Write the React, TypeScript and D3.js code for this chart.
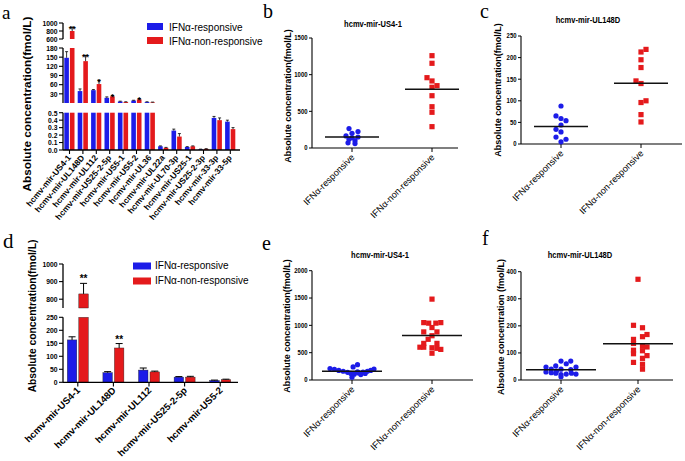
import React from 'react';
import * as d3 from 'd3';

const BLUE = '#1c1ce8';
const RED = '#e41a1c';
const FONT = "Arial, 'Liberation Sans', sans-serif";
const SERIF = "'Times New Roman', 'Liberation Serif', serif";

const GROUPS = ['IFNα-responsive', 'IFNα-non-responsive'];

// ---------- Panel a ----------
const aCategories = [
  'hcmv-mir-US4-1', 'hcmv-mir-UL148D', 'hcmv-mir-UL112', 'hcmv-mir-US25-2-5p',
  'hcmv-mir-US5-1', 'hcmv-mir-US5-2', 'hcmv-mir-UL36', 'hcmv-mir-UL22a',
  'hcmv-mir-UL70-3p', 'hcmv-mir-US25-1', 'hcmv-mir-US25-2-3p', 'hcmv-mir-33-3p', 'hcmv-mir-33-5p',
];
const aBlue = [148, 39, 42, 17, 5, 8, 3, 0.05, 0.26, 0.04, 0.01, 0.43, 0.38];
const aBlueErr = [168, 46, 44, 20, 6, 9, 4, 0.055, 0.28, 0.045, 0.012, 0.45, 0.40];
const aRed = [800, 137, 62, 22, 3, 12, 2, 0.03, 0.18, 0.05, 0.015, 0.40, 0.28];
const aRedErr = [900, 156, 75, 25, 4, 14, 3, 0.035, 0.22, 0.055, 0.018, 0.43, 0.30];
const aStars = ['**', '**', '*', '*', '', '*', '', '', '', '', '', '', ''];
const aTopTicks = [600, 800, 1000];
const aMidTicks = [30, 60, 90, 120, 150, 180];
const aBotTicks = [0, 0.1, 0.2, 0.3, 0.4, 0.5];

// ---------- Panel d ----------
const dCategories = ['hcmv-mir-US4-1', 'hcmv-mir-UL148D', 'hcmv-mir-UL112', 'hcmv-mir-US25-2-5p', 'hcmv-mir-US5-2'];
const dBlue = [163, 37, 47, 20, 7];
const dBlueErr = [175, 41, 55, 22, 8.5];
const dRed = [830, 132, 40, 20, 10];
const dRedErr = [890, 149, 43, 23, 12];
const dStars = ['**', '**', '', '', ''];
const dTopTicks = [800, 900, 1000];
const dBotTicks = [0, 50, 100, 150, 200, 250];

// ---------- Panel b ----------
const bBlue = [265, 225, 200, 165, 150, 140, 120, 100, 70, 60];
const bBlueJit = [-0.3, 0.6, 0.0, -0.6, 0.6, 0, -0.3, 0.3, -0.4, 0.3];
const bRed = [1259, 1155, 959, 914, 850, 828, 713, 563, 487, 291];
const bRedJit = [0, 0, -0.5, 0, 0.5, 0, 0, 0, 0, 0];
const bTicks = [0, 500, 1000, 1500];

// ---------- Panel c ----------
const cBlue = [88, 65, 59, 54, 44, 34, 28, 16, 11, 5];
const cBlueJit = [0, -0.5, 0, 0.5, 0, -0.5, 0, -0.5, 0.5, 0];
const cRed = [219, 213, 195, 177, 146, 140, 100, 96, 68, 51];
const cRedJit = [0.5, 0, 0, 0, -0.5, 0, 0.5, 0, 0, 0];
const cTicks = [0, 50, 100, 150, 200, 250];

// ---------- Panel e ----------
const eBlue = [210, 195, 175, 160, 140, 120, 240, 280, 105, 50, 150, 130, 100, 145, 120, 160, 175, 200];
const eBlueJit = [-1, -0.8, -0.6, -0.4, -0.2, -0.05, 0.05, 0.25, 0.1, 0.0, 0.25, 0.3, 0.4, 0.5, 0.6, 0.7, 0.85, 1.0];
const eRed = [1480, 1050, 1040, 1040, 1050, 960, 880, 880, 810, 745, 670, 670, 600, 600, 590, 580, 560, 490];
const eRedJit = [0, -0.75, -0.3, 0.35, 0.8, 0, -0.75, 0.45, 0, -0.35, 0.45, -0.75, -1.1, -0.75, 0, 0.45, 0.8, 0];
const eTicks = [0, 500, 1000, 1500, 2000];

// ---------- Panel f ----------
const fBlue = [70, 70, 60, 52, 48, 48, 40, 40, 38, 30, 27, 25, 22, 22, 20, 25, 12, 33];
const fBlueJit = [0, 0.65, 0.35, -0.35, -1, 1, -0.65, 0, 0.65, -1, -0.65, -0.35, 0.35, 1, 0, 0.7, 0, -0.3];
const fRed = [372, 202, 193, 168, 150, 160, 135, 125, 122, 110, 108, 97, 90, 80, 65, 58, 40];
const fRedJit = [0, -0.5, 0.5, 1, -0.5, 0.5, -0.5, 0.5, 1, -0.5, 0.5, -0.5, 1, 0.5, -0.5, 0.5, 0.5];
const fTicks = [0, 100, 200, 300, 400];

type TProps = { x: number; y: number; size: number; sx?: number; anchor?: string; weight?: string | number; rotate?: number; fill?: string; family?: string; children: React.ReactNode };
function T({ x, y, size, sx = 1, anchor = 'start', weight = 'normal', rotate = 0, fill = '#000', family = FONT, children }: TProps) {
  return (
    <text transform={`translate(${x},${y}) rotate(${rotate}) scale(${sx},1)`} fontSize={size} fontFamily={family}
      fontWeight={weight} textAnchor={anchor} fill={fill}>{children}</text>
  );
}

function YSegment({ scale, ticks, x, fmt, size, sx, tick = 4 }: any) {
  const [r0, r1] = scale.range();
  return (
    <g>
      <line x1={x} x2={x} y1={r0} y2={r1} stroke="#000" strokeWidth={1.3} />
      {ticks.map((t: number) => (
        <g key={t}>
          <line x1={x - tick} x2={x} y1={scale(t)} y2={scale(t)} stroke="#000" strokeWidth={1.1} />
          <T x={x - tick - 1.5} y={scale(t) + size * 0.35} size={size} sx={sx} anchor="end" weight="bold">{fmt(t)}</T>
        </g>
      ))}
    </g>
  );
}

function PanelA() {
  const x = d3.scaleBand<string>().domain(aCategories).range([62.8, 237]);
  const yTop = d3.scaleLinear().domain([600, 1000]).range([39, 23]);
  const yMid = d3.scaleLinear().domain([0, 180]).range([103, 48]);
  const yBot = d3.scaleLinear().domain([0, 0.5]).range([150, 112.7]);
  const axisX = 63;
  const bw = 4.6;
  const segPx = (v: number) => (v > 600 ? yTop(v) : v > 0.5 ? yMid(Math.min(v, 180)) : yBot(v));
  const bars = (vals: number[], errs: number[], color: string, dx: number) =>
    vals.map((v, i) => {
      const cx = (x(aCategories[i]) as number) + x.bandwidth() / 2 + dx;
      const parts: JSX.Element[] = [];
      parts.push(<rect key="b" x={cx} y={yBot(Math.min(v, 0.5))} width={bw} height={yBot(0) - yBot(Math.min(v, 0.5))} fill={color} />);
      if (v > 0.5) parts.push(<rect key="m" x={cx} y={yMid(Math.min(v, 180))} width={bw} height={yMid(0) - yMid(Math.min(v, 180))} fill={color} />);
      if (v > 600) parts.push(<rect key="t" x={cx} y={yTop(v)} width={bw} height={yTop(600) - yTop(v)} fill={color} />);
      const showErr = v < 0.5 || v <= 180 || v > 600;
      if (showErr) {
        const y1 = segPx(v);
        const y2 = segPx(errs[i]);
        parts.push(<line key="e" x1={cx + bw / 2} x2={cx + bw / 2} y1={y1} y2={y2} stroke="#000" strokeWidth={0.8} />);
        parts.push(<line key="c" x1={cx + 0.8} x2={cx + bw - 0.8} y1={y2} y2={y2} stroke="#000" strokeWidth={0.8} />);
      }
      return <g key={i}>{parts}</g>;
    });
  return (
    <g>
      <T x={2} y={19} size={19} family={SERIF}>a</T>
      {bars(aBlue, aBlueErr, BLUE, -5.2)}
      {bars(aRed, aRedErr, RED, 0.4)}
      {aStars.map((s, i) => s && (
        <T key={i} x={(x(aCategories[i]) as number) + x.bandwidth() / 2 + 2.7} y={segPx(aRedErr[i]) + 4.5} size={9} anchor="middle" weight="bold">{s}</T>
      ))}
      <YSegment scale={yTop} ticks={aTopTicks} x={axisX} fmt={(t: number) => String(t)} size={8} sx={0.85} />
      <YSegment scale={yMid} ticks={aMidTicks} x={axisX} fmt={(t: number) => String(t)} size={8} sx={0.85} />
      <YSegment scale={yBot} ticks={aBotTicks} x={axisX} fmt={(t: number) => t.toFixed(1)} size={8} sx={0.85} />
      <line x1={axisX} x2={240} y1={150} y2={150} stroke="#000" strokeWidth={1.3} />
      {aCategories.map((c) => {
        const cx = (x(c) as number) + x.bandwidth() / 2;
        return (
          <g key={c}>
            <line x1={cx} x2={cx} y1={150} y2={154} stroke="#000" strokeWidth={1.1} />
            <T x={cx + 2} y={158} size={8.4} rotate={-50} anchor="end" weight="bold">{c}</T>
          </g>
        );
      })}
      <T x={31} y={104} size={11.8} rotate={-90} anchor="middle" weight="bold">Absolute concentration(fmol/L)</T>
      <rect x={147} y={23} width={16} height={7} fill={BLUE} />
      <rect x={147} y={37} width={16} height={7} fill={RED} />
      <T x={169} y={30.5} size={10}>{GROUPS[0]}</T>
      <T x={169} y={44.5} size={10}>{GROUPS[1]}</T>
    </g>
  );
}

function PanelD() {
  const x = d3.scaleBand<string>().domain(dCategories).range([60, 238]);
  const yTop = d3.scaleLinear().domain([750, 1000]).range([308, 264]);
  const yBot = d3.scaleLinear().domain([0, 250]).range([382.3, 317.3]);
  const axisX = 63;
  const bw = 9.5;
  const segPx = (v: number) => (v > 750 ? yTop(v) : yBot(Math.min(v, 250)));
  const bars = (vals: number[], errs: number[], color: string, dx: number) =>
    vals.map((v, i) => {
      const cx = (x(dCategories[i]) as number) + x.bandwidth() / 2 + dx;
      const ex = cx + bw / 2;
      const y2 = segPx(errs[i]);
      return (
        <g key={i}>
          <rect x={cx} y={yBot(Math.min(v, 250))} width={bw} height={yBot(0) - yBot(Math.min(v, 250))} fill={color} stroke="#222" strokeWidth={0.4} />
          {v > 750 && <rect x={cx} y={yTop(v)} width={bw} height={yTop(750) - yTop(v)} fill={color} stroke="#222" strokeWidth={0.4} />}
          <line x1={ex} x2={ex} y1={segPx(v)} y2={y2} stroke="#000" strokeWidth={1} />
          <line x1={ex - 3.5} x2={ex + 3.5} y1={y2} y2={y2} stroke="#000" strokeWidth={1} />
        </g>
      );
    });
  return (
    <g>
      <T x={3} y={248} size={21} family={SERIF}>d</T>
      {bars(dBlue, dBlueErr, BLUE, -10.5)}
      {bars(dRed, dRedErr, RED, 1)}
      {dStars.map((s, i) => s && (
        <T key={i} x={(x(dCategories[i]) as number) + x.bandwidth() / 2 + 5.75} y={segPx(dRedErr[i]) - 1} size={10} anchor="middle" weight="bold">{s}</T>
      ))}
      <YSegment scale={yTop} ticks={dTopTicks} x={axisX} fmt={(t: number) => String(t)} size={8} sx={0.85} />
      <YSegment scale={yBot} ticks={dBotTicks} x={axisX} fmt={(t: number) => String(t)} size={8} sx={0.85} />
      <line x1={axisX} x2={238} y1={382.3} y2={382.3} stroke="#000" strokeWidth={1.3} />
      {dCategories.map((c) => {
        const cx = (x(c) as number) + x.bandwidth() / 2;
        return (
          <g key={c}>
            <line x1={cx} x2={cx} y1={382.3} y2={386.5} stroke="#000" strokeWidth={1.1} />
            <T x={cx + 3} y={391} size={9.6} rotate={-45} anchor="end" weight="bold">{c}</T>
          </g>
        );
      })}
      <T x={36} y={316} size={10.3} rotate={-90} anchor="middle" weight="bold">Absolute concentration(fmol/L)</T>
      <rect x={133} y={262.5} width={18} height={7} fill={BLUE} />
      <rect x={133} y={277.5} width={18} height={7} fill={RED} />
      <T x={155} y={269} size={10}>{GROUPS[0]}</T>
      <T x={155} y={284} size={10}>{GROUPS[1]}</T>
    </g>
  );
}

type SP = {
  letter: string; lx: number; ly: number; title: string; tx: number; ty: number;
  axisX: number; xEnd: number; y0: number; y1: number; yMax: number; ticks: number[];
  c1: number; c2: number; blue: number[]; blueJit: number[]; red: number[]; redJit: number[];
  spreadB: number; spreadR: number; half: number; ylabel: string; lblX: number; lblY: number;
};

function ScatterPanel(p: SP) {
  const x = d3.scalePoint<string>().domain(GROUPS).range([p.c1, p.c2]);
  const y = d3.scaleLinear().domain([0, p.yMax]).range([p.y0, p.y1]);
  const xb = x(GROUPS[0]) as number;
  const xr = x(GROUPS[1]) as number;
  const mb = d3.mean(p.blue) as number;
  const mr = d3.mean(p.red) as number;
  return (
    <g>
      <T x={p.lx} y={p.ly} size={20} family={SERIF}>{p.letter}</T>
      <T x={p.tx} y={p.ty} size={9.2} sx={0.82} anchor="middle" weight="bold">{p.title}</T>
      <line x1={p.axisX} x2={p.axisX} y1={p.y0} y2={p.y1} stroke="#000" strokeWidth={1.1} />
      <line x1={p.axisX} x2={p.xEnd} y1={p.y0} y2={p.y0} stroke="#000" strokeWidth={1.1} />
      {p.ticks.map((t) => (
        <g key={t}>
          <line x1={p.axisX - 3} x2={p.axisX} y1={y(t)} y2={y(t)} stroke="#000" strokeWidth={1} />
          <T x={p.axisX - 4.5} y={y(t) + 2.4} size={7} sx={0.85} anchor="end" weight="bold">{t}</T>
        </g>
      ))}
      {GROUPS.map((g) => (
        <g key={g}>
          <line x1={x(g)} x2={x(g)} y1={p.y0} y2={p.y0 + 4} stroke="#000" strokeWidth={1} />
          <T x={(x(g) as number) + 3} y={p.y0 + 10} size={9.2} rotate={-45} anchor="end">{g}</T>
        </g>
      ))}
      <T x={p.lblX} y={p.lblY} size={9} rotate={-90} anchor="middle" weight="bold">{p.ylabel}</T>
      {p.blue.map((v, i) => (
        <circle key={'b' + i} cx={xb + p.blueJit[i] * p.spreadB} cy={y(v)} r={2.6} fill={BLUE} />
      ))}
      {p.red.map((v, i) => (
        <rect key={'r' + i} x={xr + p.redJit[i] * p.spreadR - 2.6} y={y(v) - 2.6} width={5.2} height={5.2} fill={RED} />
      ))}
      <line x1={xb - p.half} x2={xb + p.half} y1={y(mb)} y2={y(mb)} stroke="#111" strokeWidth={1.5} />
      <line x1={xr - p.half} x2={xr + p.half} y1={y(mr)} y2={y(mr)} stroke="#111" strokeWidth={1.5} />
    </g>
  );
}

export default function App() {
  const lab = 'Absolute concentration(fmol/L)';
  return (
    <div style={{ position: 'absolute', left: 0, top: 0 }}>
      <svg width={685} height={461} style={{ display: 'block', background: '#fff' }}>
        <PanelA />
        <PanelD />
        <ScatterPanel letter="b" lx={263} ly={18} title="hcmv-mir-US4-1" tx={373} ty={27}
          axisX={312} xEnd={458} y0={148} y1={38} yMax={1500} ticks={bTicks} c1={352} c2={432}
          blue={bBlue} blueJit={bBlueJit} red={bRed} redJit={bRedJit} spreadB={10} spreadR={10} half={27}
          ylabel={lab} lblX={291} lblY={96} />
        <ScatterPanel letter="c" lx={480} ly={18} title="hcmv-mir-UL148D" tx={588} ty={23}
          axisX={521} xEnd={682} y0={144} y1={36} yMax={250} ticks={cTicks} c1={561} c2={641}
          blue={cBlue} blueJit={cBlueJit} red={cRed} redJit={cRedJit} spreadB={10} spreadR={10} half={27}
          ylabel={lab} lblX={501} lblY={90} />
        <ScatterPanel letter="e" lx={262} ly={250} title="hcmv-mir-US4-1" tx={380} ty={258}
          axisX={312} xEnd={473} y0={380} y1={270.7} yMax={2000} ticks={eTicks} c1={352} c2={432}
          blue={eBlue} blueJit={eBlueJit} red={eRed} redJit={eRedJit} spreadB={22} spreadR={11} half={30}
          ylabel={lab} lblX={290} lblY={326} />
        <ScatterPanel letter="f" lx={482} ly={245} title="hcmv-mir-UL148D" tx={580} ty={258}
          axisX={521} xEnd={673} y0={380} y1={271.7} yMax={400} ticks={fTicks} c1={561} c2={638}
          blue={fBlue} blueJit={fBlueJit} red={fRed} redJit={fRedJit} spreadB={15} spreadR={9} half={35}
          ylabel="Absolute concentration (fmol/L)" lblX={504} lblY={327} />
      </svg>
    </div>
  );
}
